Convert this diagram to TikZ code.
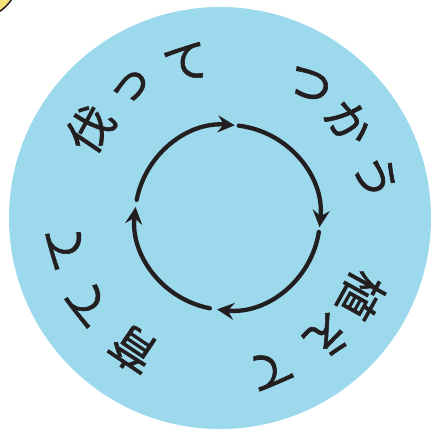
\documentclass[tikz,border=0pt]{standalone}
\usepackage{fontspec}
\newfontfamily\jp[FakeBold=1.3]{Noto Sans CJK JP}
\usetikzlibrary{arrows.meta}
\definecolor{ringblue}{RGB}{156,217,236}
\definecolor{inkblack}{RGB}{35,31,32}
\definecolor{sunyellow}{RGB}{245,225,120}
\begin{document}
\begin{tikzpicture}[x=1pt,y=1pt,
  cyc/.style={line width=4.3pt, line cap=round, draw=inkblack, -{Stealth[length=17pt,width=17pt,inset=6pt]}},
  ch/.style={font=\jp\fontsize{46}{46}\selectfont, text=inkblack, inner sep=0pt}]
\useasboundingbox (0,0) rectangle (432,432);
\clip (0,0) rectangle (432,432);
\fill[ringblue] (220,214) circle (211);
\filldraw[fill=sunyellow, draw=inkblack, line width=1.5pt] (-25,457) circle (44);
\coordinate (c) at (227.5,214.5);
\coordinate (o) at (222,214);
\draw[cyc] ([shift={(169:92.5)}]c) arc (169:85.5:92.5);
\draw[cyc] ([shift={(83:92.5)}]c) arc (83:-6:92.5);
\draw[cyc] ([shift={(-9:92.5)}]c) arc (-9:-96.5:92.5);
\draw[cyc] ([shift={(-101:92.5)}]c) arc (-101:-186.5:92.5);
\node[ch, rotate=56] (k1) at ([shift={(146:159)}]o) {伐};
\node[ch, rotate=35] (k2) at ([shift={(125:159)}]o) {っ};
\node[ch, rotate=13] (k3) at ([shift={(103:159)}]o) {て};
\node[ch, rotate=-33] (k4) at ([shift={(57:159)}]o) {つ};
\node[ch, rotate=-53] (k5) at ([shift={(37:159)}]o) {か};
\node[ch, rotate=-75] (k6) at ([shift={(15:159)}]o) {う};
\node[ch, rotate=-119] (k7) at ([shift={(-29:159)}]o) {植};
\node[ch, rotate=-138.5] (k8) at ([shift={(-48.5:159)}]o) {え};
\node[ch, rotate=-162] (k9) at ([shift={(-72:159)}]o) {て};
\node[ch, rotate=-214] (k10) at ([shift={(-124:159)}]o) {育};
\node[ch, rotate=-237] (k11) at ([shift={(-147:159)}]o) {て};
\node[ch, rotate=-259] (k12) at ([shift={(-169:159)}]o) {て};
\end{tikzpicture}
\end{document}
